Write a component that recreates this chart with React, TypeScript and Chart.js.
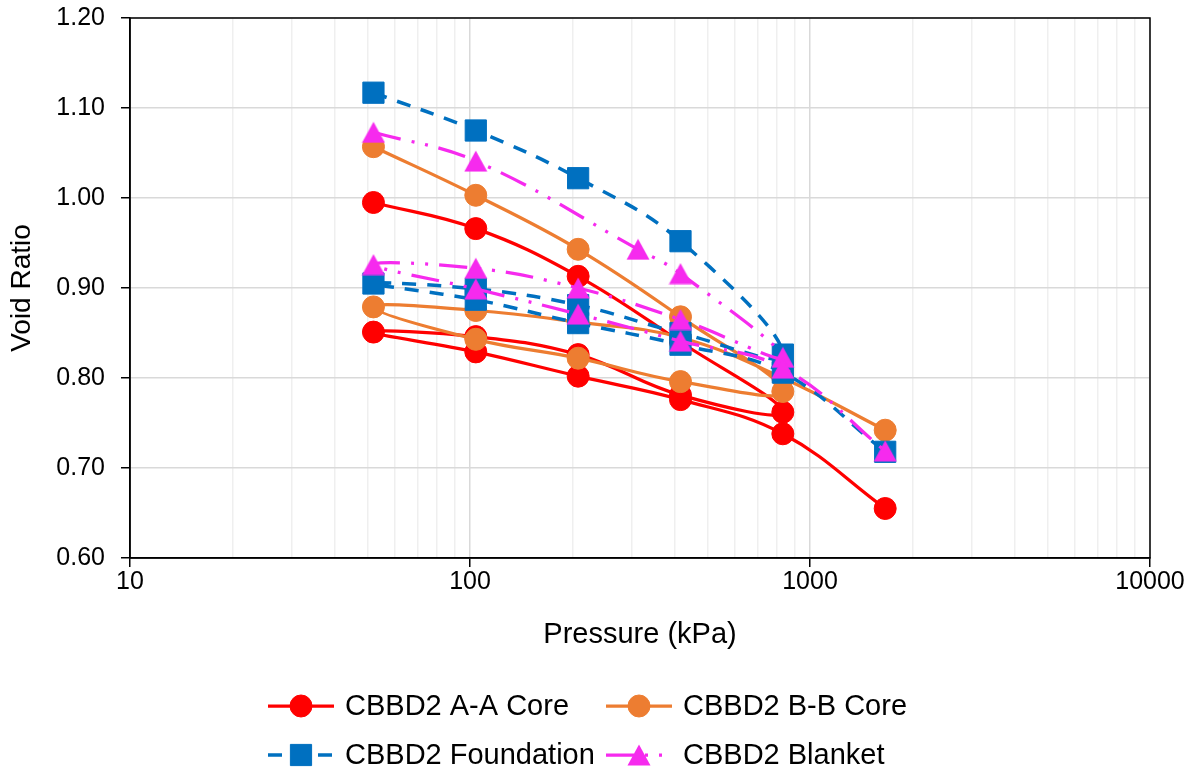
import React, { useEffect, useRef } from 'react';
import { Chart, registerables } from 'chart.js';

Chart.register(...registerables);

const FONT = '"Liberation Sans", Arial, Helvetica, sans-serif';

// Oedometer results: each sequence is loading -> unloading -> reloading (kPa, void ratio)
const aaCorePressure = [52, 104, 208, 416, 832, 416, 208, 104, 52, 104, 208, 416, 832, 1664];
const aaCoreVoidRatio = [0.995, 0.966, 0.913, 0.84, 0.762, 0.781, 0.826, 0.846, 0.851, 0.829, 0.802, 0.776, 0.738, 0.655];

const bbCorePressure = [52, 104, 208, 416, 832, 416, 208, 104, 52, 104, 208, 416, 832, 1664];
const bbCoreVoidRatio = [1.057, 1.003, 0.943, 0.868, 0.785, 0.796, 0.822, 0.843, 0.879, 0.875, 0.862, 0.845, 0.8, 0.742];

const foundationPressure = [52, 104, 208, 416, 832, 416, 208, 104, 52, 104, 208, 416, 832, 1664];
const foundationVoidRatio = [1.117, 1.075, 1.022, 0.952, 0.826, 0.85, 0.881, 0.899, 0.905, 0.887, 0.861, 0.837, 0.806, 0.718];

const blanketPressure = [52, 104, 312, 416, 832, 416, 208, 104, 52, 104, 208, 416, 832, 1664];
const blanketVoidRatio = [1.073, 1.041, 0.943, 0.916, 0.823, 0.865, 0.9, 0.922, 0.926, 0.899, 0.871, 0.841, 0.811, 0.719];

const seriesLabels = ['CBBD2 A-A Core', 'CBBD2 B-B Core', 'CBBD2 Foundation', 'CBBD2 Blanket'];

// Axis ticks
const pressureDecades = [10, 100, 1000, 10000];
const voidRatioTicks = [0.6, 0.7, 0.8, 0.9, 1.0, 1.1, 1.2];

type SeriesStyle = {
  color: string;
  pointStyle: 'circle' | 'rect' | 'triangle';
  radius: number;
  dash: number[];
  width: number;
};

const styles: SeriesStyle[] = [
  { color: '#FF0000', pointStyle: 'circle', radius: 11, dash: [], width: 3.25 },
  { color: '#ED7D31', pointStyle: 'circle', radius: 11, dash: [], width: 3.25 },
  { color: '#0070C0', pointStyle: 'rect', radius: 15, dash: [14, 11], width: 3.5 },
  { color: '#F62AEE', pointStyle: 'triangle', radius: 13, dash: [28, 11, 3, 11, 3, 11], width: 3.25 },
];

const seriesData: [number[], number[]][] = [
  [aaCorePressure, aaCoreVoidRatio],
  [bbCorePressure, bbCoreVoidRatio],
  [foundationPressure, foundationVoidRatio],
  [blanketPressure, blanketVoidRatio],
];

// Log-axis gridline positions: 1..9 within each decade
const pressureGrid: number[] = [];
pressureDecades.forEach((d, i) => {
  if (i === pressureDecades.length - 1) {
    pressureGrid.push(d);
  } else {
    for (let k = 1; k <= 9; k++) pressureGrid.push(d * k);
  }
});
const isDecade = (v: number) => pressureDecades.some((d) => Math.abs(d - v) < 1e-9);

// Triangle marker centred on its bounding box
function makeTriangle(color: string): HTMLCanvasElement {
  const c = document.createElement('canvas');
  c.width = 24;
  c.height = 22;
  const g = c.getContext('2d')!;
  g.fillStyle = color;
  g.beginPath();
  g.moveTo(12, 0.5);
  g.lineTo(23.5, 21.5);
  g.lineTo(0.5, 21.5);
  g.closePath();
  g.fill();
  return c;
}

function drawMarker(ctx: CanvasRenderingContext2D, s: SeriesStyle, x: number, y: number, tri: HTMLCanvasElement) {
  ctx.save();
  ctx.setLineDash([]);
  ctx.fillStyle = s.color;
  ctx.strokeStyle = s.color;
  ctx.lineWidth = 1;
  const r = s.radius;
  if (s.pointStyle === 'triangle') {
    ctx.drawImage(tri, x - tri.width / 2, y - tri.height / 2);
  } else {
    ctx.beginPath();
    if (s.pointStyle === 'circle') {
      ctx.arc(x, y, r, 0, Math.PI * 2);
    } else {
      const h = r * Math.SQRT1_2;
      ctx.rect(x - h, y - h, 2 * h, 2 * h);
    }
    ctx.fill();
    ctx.stroke();
  }
  ctx.restore();
}

// Black frame around the plotting area
const framePlugin = {
  id: 'plotFrame',
  beforeDatasetsDraw(chart: Chart) {
    const { ctx, chartArea } = chart;
    ctx.save();
    ctx.strokeStyle = '#000';
    ctx.lineWidth = 1.5;
    ctx.strokeRect(chartArea.left, chartArea.top, chartArea.right - chartArea.left, chartArea.bottom - chartArea.top);
    ctx.restore();
  },
};

export default function App() {
  const canvasRef = useRef<HTMLCanvasElement | null>(null);

  useEffect(() => {
    if (!canvasRef.current) return;
    const triangle = makeTriangle(styles[3].color);

    // Two-column legend under the axis title
    const legendPlugin = {
      id: 'gridLegend',
      afterDraw(chart: Chart) {
        const { ctx } = chart;
        const cols = [268, 606];
        const rows = [706, 755];
        const lineLen = 66;
        seriesLabels.forEach((label, i) => {
          const s = styles[i];
          const x0 = cols[i % 2];
          const y = rows[Math.floor(i / 2)];
          ctx.save();
          ctx.strokeStyle = s.color;
          ctx.lineWidth = s.width;
          ctx.lineCap = 'butt';
          ctx.setLineDash(s.dash);
          ctx.lineDashOffset = 0;
          ctx.beginPath();
          ctx.moveTo(x0, y);
          ctx.lineTo(x0 + lineLen, y);
          ctx.stroke();
          ctx.restore();
          drawMarker(ctx, s, x0 + lineLen / 2, y, triangle);
          ctx.save();
          ctx.fillStyle = '#000';
          ctx.font = `29px ${FONT}`;
          ctx.textAlign = 'left';
          ctx.textBaseline = 'middle';
          ctx.fillText(label, x0 + lineLen + 11, y + 1);
          ctx.restore();
        });
      },
    };

    const datasets = seriesData.map(([xs, ys], i) => {
      const s = styles[i];
      return {
        label: seriesLabels[i],
        data: xs.map((x, j) => ({ x, y: ys[j] })),
        showLine: true,
        tension: 0.4,
        borderColor: s.color,
        backgroundColor: s.color,
        borderWidth: s.width,
        borderDash: s.dash,
        borderCapStyle: 'butt' as const,
        borderJoinStyle: 'round' as const,
        pointStyle: s.pointStyle === 'triangle' ? triangle : s.pointStyle,
        pointRadius: s.radius,
        pointHoverRadius: s.radius,
        pointBackgroundColor: s.color,
        pointBorderColor: s.color,
        pointBorderWidth: 1,
        order: seriesData.length - 1 - i,
      };
    });

    const chart = new Chart(canvasRef.current, {
      type: 'scatter',
      data: { datasets },
      options: {
        animation: false,
        responsive: true,
        maintainAspectRatio: false,
        devicePixelRatio: 1,
        layout: { padding: { top: 18, right: 51, bottom: 0, left: 0 } },
        plugins: {
          legend: { display: false },
          tooltip: { enabled: false },
        },
        scales: {
          x: {
            type: 'logarithmic',
            min: 10,
            max: 10000,
            afterBuildTicks: (scale: any) => {
              scale.ticks = pressureGrid.map((v) => ({ value: v, major: isDecade(v) }));
            },
            afterFit: (scale: any) => {
              scale.height = 216;
            },
            ticks: {
              autoSkip: false,
              maxRotation: 0,
              minRotation: 0,
              padding: 0,
              color: '#000',
              font: { family: FONT, size: 25 },
              callback: (value: any) => (isDecade(Number(value)) ? String(value) : ''),
            },
            grid: {
              color: (c: any) => (c.tick && isDecade(c.tick.value) ? '#d9d9d9' : '#efefef'),
              lineWidth: 1.5,
              tickLength: 9,
              tickColor: (c: any) => (c.tick && isDecade(c.tick.value) ? '#000' : 'rgba(0,0,0,0)'),
              tickWidth: 1.5,
            },
            border: { display: true, color: '#000', width: 1.5 },
            title: {
              display: true,
              text: 'Pressure (kPa)',
              color: '#000',
              font: { family: FONT, size: 29 },
              padding: { top: 0, bottom: 122 },
            },
          },
          y: {
            type: 'linear',
            min: 0.6,
            max: 1.2,
            afterBuildTicks: (scale: any) => {
              scale.ticks = voidRatioTicks.map((v) => ({ value: v }));
            },
            afterFit: (scale: any) => {
              scale.width = 130;
              scale.paddingTop = 12;
              scale.paddingBottom = 12;
            },
            ticks: {
              padding: 16,
              color: '#000',
              font: { family: FONT, size: 25 },
              callback: (value: any) => Number(value).toFixed(2),
            },
            grid: {
              color: '#d9d9d9',
              lineWidth: 1.5,
              tickLength: 9,
              tickColor: '#000',
              tickWidth: 1.5,
            },
            border: { display: true, color: '#000', width: 1.5 },
            title: {
              display: true,
              text: 'Void Ratio',
              color: '#000',
              font: { family: FONT, size: 28 },
              padding: { top: 5, bottom: 0 },
            },
          },
        },
      },
      plugins: [framePlugin, legendPlugin],
    } as any);

    return () => chart.destroy();
  }, []);

  return (
    <div style={{ position: 'fixed', left: 0, top: 0, width: 1201, height: 774, background: '#fff' }}>
      <canvas ref={canvasRef} />
    </div>
  );
}
